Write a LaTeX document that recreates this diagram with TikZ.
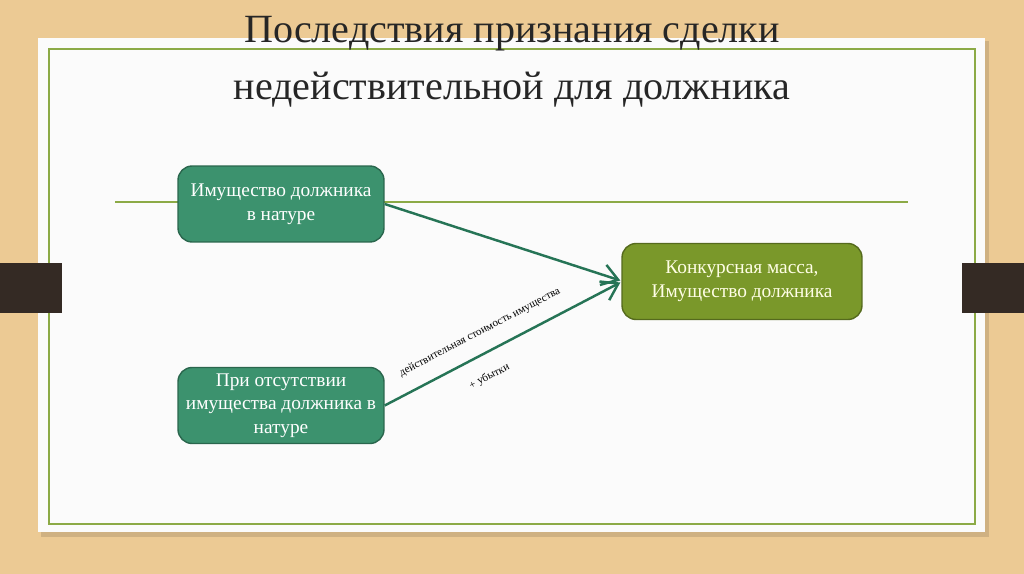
\documentclass[tikz,border=0pt]{standalone}
\usepackage{fontspec}
\setmainfont{Liberation Serif}
\usepackage{tikz}
\usetikzlibrary{arrows.meta, positioning, calc}
\definecolor{WoodTan}{RGB}{236, 202, 148}
\definecolor{TabBrown}{RGB}{52, 42, 36}
\definecolor{FrameOlive}{RGB}{140, 170, 70}
\definecolor{BoxTeal}{RGB}{60, 146, 110}
\definecolor{MassOlive}{RGB}{122, 152, 42}
\definecolor{ArrowTeal}{RGB}{38, 116, 86}
\definecolor{TitleGray}{RGB}{38, 38, 38}
\tikzset{
  box/.style={rectangle, rounded corners=8pt, draw=#1!70!black, fill=#1,
              line width=0.8pt, minimum width=4.12cm, minimum height=1.52cm,
              font=\fontsize{11}{13.5}\selectfont, text=white, align=center},
  arr/.style={-{Straight Barb[length=9pt, width=12pt]}, line width=1.4pt, color=#1},
  lbl/.style={font=\fontsize{6.3}{7}\selectfont, text=black, sloped},
  ttl/.style={font=\fontsize{22.8}{25}\selectfont, text=TitleGray, anchor=base},
}

\begin{document}
\begin{tikzpicture}[x=0.02cm, y=-0.02cm]
  % background and slide
  \fill[WoodTan] (0,0) rectangle (1024,574);
  \fill[black, opacity=0.12] (41,41) rectangle (989,537);
  \fill[white!97!gray] (38,38) rectangle (985,532);
  \draw[FrameOlive, line width=0.9pt] (49,49) rectangle (975,524);
  \fill[TabBrown] (0,263) rectangle (62,313);
  \fill[TabBrown] (962,263) rectangle (1024,313);
  \draw[FrameOlive, line width=0.7pt] (115,202) -- (908,202);

  % title
  \node[ttl] (title1) at (512,43) {Последствия признания сделки};
  \node[ttl] (title2) at (512,100) {недействительной для должника};

  % boxes
  \node[box=BoxTeal] (nat) at (281,204) {Имущество должника\\в натуре};
  \node[box=BoxTeal] (abs) at (281,405.5) {При отсутствии\\имущества должника в\\натуре};
  \node[box=MassOlive, minimum width=4.8cm, text=white!90!yellow] (mass) at (742,281.5)
    {Конкурсная масса,\\Имущество должника};

  % arrows
  \draw[arr=ArrowTeal] (nat.east) -- ($(mass.west)+(-1,-1)$);
  \draw[arr=ArrowTeal] (abs.east) -- ($(mass.west)+(-1,1)$)
    node[lbl, pos=0.445, above=5pt] {действительная стоимость имущества}
    node[lbl, pos=0.40, below=6pt] {+ убытки};
\end{tikzpicture}
\end{document}
